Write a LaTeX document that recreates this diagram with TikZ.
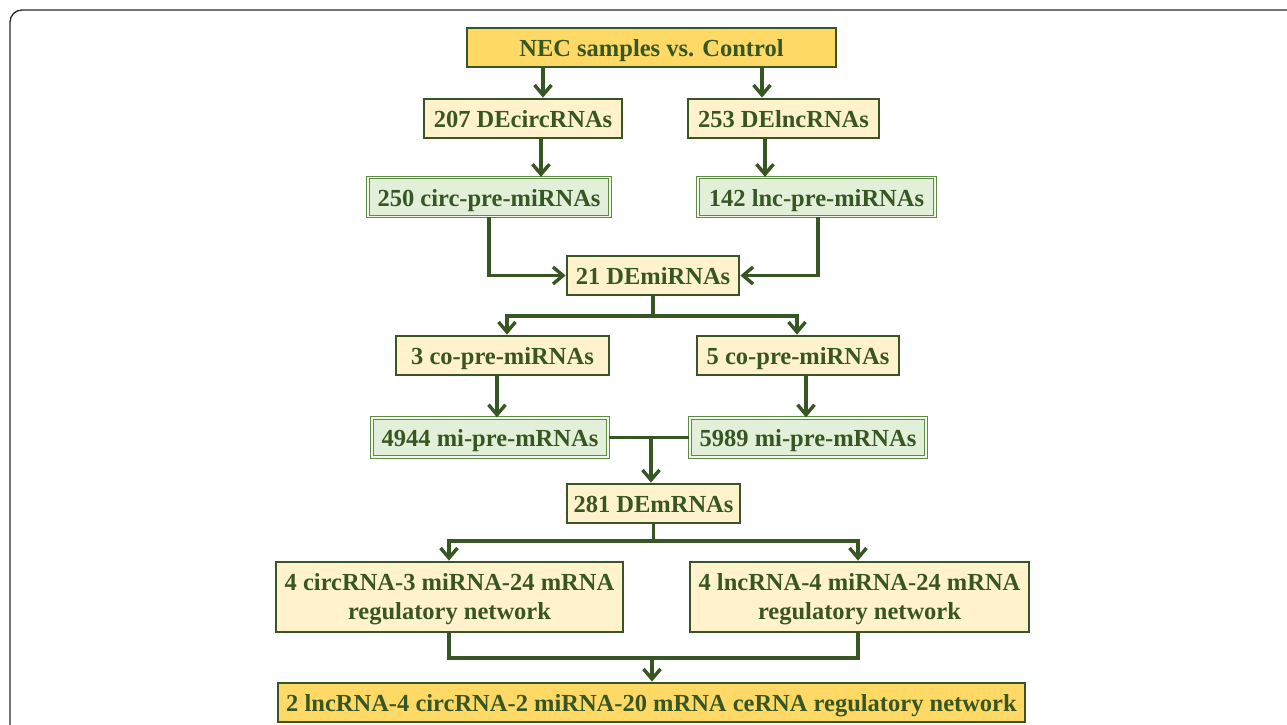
\documentclass[tikz,border=0pt]{standalone}
\usepackage{fontspec}
\setmainfont{Liberation Serif}
\usetikzlibrary{arrows.meta}
\definecolor{dgreen}{HTML}{375623}
\definecolor{gold}{HTML}{FFD966}
\definecolor{cream}{HTML}{FFF2CC}
\definecolor{pgreen}{HTML}{E2F0D9}
\definecolor{mgreen}{HTML}{5E8A44}
\tikzset{
  box/.style={draw=dgreen, line width=2.8pt, text=dgreen, font=\fontsize{24.5}{29}\selectfont\bfseries, align=center, inner sep=0pt, minimum height=39pt, text height=18.5pt, text depth=0pt},
  twobox/.style={draw=dgreen, line width=2.8pt, text=dgreen, font=\fontsize{24.5}{29}\selectfont\bfseries, align=center, inner sep=0pt, minimum height=70pt, fill=cream},
  goldbox/.style={box, fill=gold},
  creambox/.style={box, fill=cream},
  greenbox/.style={box, fill=pgreen, draw=mgreen, line width=1.3pt, double=pgreen!50!white, double distance=1.3pt},
  conn/.style={draw=dgreen, line width=3.4pt},
  arr/.style={conn, -{Straight Barb[length=10pt, width=17pt, line width=3.4pt]}},
}
\begin{document}
\begin{tikzpicture}[x=1pt, y=-1pt]
\useasboundingbox (0,0) rectangle (1287,725);
% outer frame
\draw[line width=1.3pt, black!85, rounded corners=12pt] (10,730) -- (10,10) -- (1295,10);
% nodes
\node[goldbox, minimum width=369pt] (top) at (651.5,47.5) {NEC samples vs. Control};
\node[creambox, minimum width=198pt] (c207) at (523,118.5) {207 DEcircRNAs};
\node[creambox, minimum width=191pt] (l253) at (783.5,118.5) {253 DElncRNAs};
\node[greenbox, minimum width=242pt] (c250) at (489,197) {250 circ-pre-miRNAs};
\node[greenbox, minimum width=237pt] (l142) at (816.5,197) {142 lnc-pre-miRNAs};
\node[creambox, minimum width=172pt] (mi21) at (653,275.5) {21 DEmiRNAs};
\node[creambox, minimum width=213pt] (co3) at (502.5,355.5) {3 co-pre-miRNAs};
\node[creambox, minimum width=202pt] (co5) at (798,355.5) {5 co-pre-miRNAs};
\node[greenbox, minimum width=236pt] (m4944) at (490,437.5) {4944 mi-pre-mRNAs};
\node[greenbox, minimum width=236pt] (m5989) at (808,437.5) {5989 mi-pre-mRNAs};
\node[creambox, minimum width=173pt] (m281) at (653.5,503.5) {281 DEmRNAs};
\node[twobox, minimum width=347pt] (n1) at (449.5,597) {\rule{0pt}{21pt}4 circRNA-3 miRNA-24 mRNA\\regulatory network};
\node[twobox, minimum width=339pt] (n2) at (859.5,597) {\rule{0pt}{21pt}4 lncRNA-4 miRNA-24 mRNA\\regulatory network};
\node[goldbox, minimum width=747pt] (fin) at (651.5,702.5) {2 lncRNA-4 circRNA-2 miRNA-20 mRNA ceRNA regulatory network};
% coordinates
\coordinate (j1) at (653,316);
\coordinate (j2) at (651,437.5);
\coordinate (j3) at (653.5,541);
\coordinate (j4) at (652,658);
% connectors
\draw[arr] (top.south -| 543,0) -- (c207.north -| 543,0);
\draw[arr] (top.south -| 762,0) -- (l253.north -| 762,0);
\draw[arr] (c207.south -| 541,0) -- (c250.north -| 541,0);
\draw[arr] (l253.south -| 765,0) -- (l142.north -| 765,0);
\draw[arr] (c250.south -| 489,0) |- (mi21.west);
\draw[arr] (l142.south -| 818,0) |- (mi21.east);
\draw[conn] (mi21.south) -- (j1);
\draw[arr] (j1) -| (co3.north -| 507,0);
\draw[arr] (j1) -| (co5.north -| 797,0);
\draw[arr] (co3.south -| 497,0) -- (m4944.north -| 497,0);
\draw[arr] (co5.south -| 806,0) -- (m5989.north -| 806,0);
\draw[conn] (m4944.east) -- (m5989.west);
\draw[arr] (j2) -- (m281.north -| j2);
\draw[conn] (m281.south) -- (j3);
\draw[arr] (j3) -| (n1.north -| 449,0);
\draw[arr] (j3) -| (n2.north -| 858,0);
\draw[conn] (n1.south -| 449,0) |- (j4);
\draw[conn] (n2.south -| 858,0) |- (j4);
\draw[arr] (j4) -- (fin.north -| j4);
\end{tikzpicture}
\end{document}
